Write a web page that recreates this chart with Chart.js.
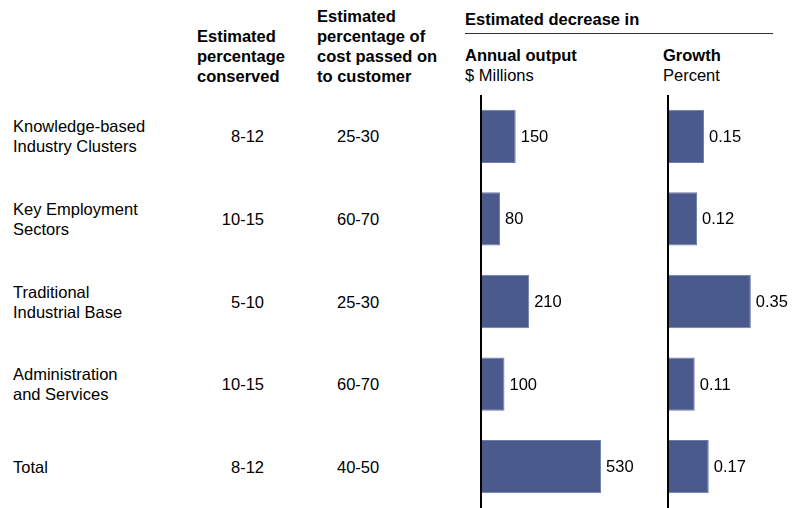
<!DOCTYPE html>
<html>
<head>
<meta charset="utf-8">
<script src="https://cdn.jsdelivr.net/npm/chart.js@4/dist/chart.umd.min.js"></script>
<style>
	body { margin: 0; background: #fff; }
	#page { position: relative; width: 792px; height: 508px; overflow: hidden;
		font-family: "Liberation Sans", Arial, sans-serif; font-size: 16.5px; line-height: 20px; color: #000; }
	.abs { position: absolute; white-space: nowrap; }
	.b { font-weight: bold; }
	.row { transform: translateY(-50%); }
	canvas { position: absolute; }
</style>
</head>
<body>
<div id="page">
	<div class="abs b" style="left:197px; top:26px;">Estimated<br>percentage<br>conserved</div>
	<div class="abs b" style="left:317px; top:6px;">Estimated<br>percentage of<br>cost passed on<br>to customer</div>
	<div class="abs b" style="left:465px; top:9px;">Estimated decrease in</div>
	<div class="abs" style="left:465px; top:33px; width:308px; height:1px; background:#333;"></div>
	<div class="abs" style="left:465px; top:45px;"><span class="b">Annual output</span><br>$ Millions</div>
	<div class="abs" style="left:663px; top:45px;"><span class="b">Growth</span><br>Percent</div>
	<div id="rows"></div>
	<canvas id="outputChart" style="left:478px; top:95px;" width="164" height="413"></canvas>
	<canvas id="growthChart" style="left:665px; top:95px;" width="127" height="413"></canvas>
</div>
<script>
var categories = [
	['Knowledge-based', 'Industry Clusters'],
	['Key Employment', 'Sectors'],
	['Traditional', 'Industrial Base'],
	['Administration', 'and Services'],
	['Total']
];
var conserved = ['8-12', '10-15', '5-10', '10-15', '8-12'];
var passedOn = ['25-30', '60-70', '25-30', '60-70', '40-50'];
var annualOutput = [150, 80, 210, 100, 530];
var growth = [0.15, 0.12, 0.35, 0.11, 0.17];

var barColor = '#4b5a8c';

// axis line on the left + value labels next to each bar
var barExtras = {
	id: 'barExtras',
	afterDatasetsDraw: function(chart, args, opts) {
		var ctx = chart.ctx;
		var area = chart.chartArea;
		ctx.save();
		ctx.strokeStyle = '#000';
		ctx.lineWidth = 2;
		ctx.beginPath();
		ctx.moveTo(area.left - 1, 0);
		ctx.lineTo(area.left - 1, chart.height);
		ctx.stroke();

		ctx.fillStyle = '#000';
		ctx.font = '16.5px "Liberation Sans", Arial, sans-serif';
		ctx.textBaseline = 'middle';
		ctx.textAlign = 'left';
		var meta = chart.getDatasetMeta(0);
		var data = chart.data.datasets[0].data;
		meta.data.forEach(function(bar, i) {
			ctx.fillText(opts.format(data[i]), bar.x + 5, bar.y + 1);
		});
		ctx.restore();
	}
};

function makeChart(id, values, max, format) {
	return new Chart(document.getElementById(id), {
		type: 'bar',
		data: {
			labels: categories.map(function(c) { return c.join(' '); }),
			datasets: [{
				data: values,
				backgroundColor: barColor,
				borderColor: '#6f7ca6',
				borderWidth: 1,
				borderSkipped: 'left',
				barPercentage: 0.645,
				categoryPercentage: 1
			}]
		},
		options: {
			indexAxis: 'y',
			responsive: false,
			animation: false,
			layout: { padding: { left: 4, right: 0, top: 0, bottom: 0 } },
			plugins: {
				legend: { display: false },
				tooltip: { enabled: false },
				barExtras: { format: format }
			},
			scales: {
				x: { display: false, min: 0, max: max },
				y: { display: false, offset: true }
			}
		},
		plugins: [barExtras]
	});
}

var outputChart = makeChart('outputChart', annualOutput, 712, function(v) { return String(v); });
var growthChart = makeChart('growthChart', growth, 0.526, function(v) { return v.toFixed(2); });

// left-hand table rows, placed on the chart's category centres
var rows = document.getElementById('rows');
var yScale = outputChart.scales.y;
var top0 = 95;
categories.forEach(function(cat, i) {
	var yc = top0 + yScale.getPixelForValue(i);
	var html = '';
	html += '<div class="abs row" style="left:13px; top:' + yc + 'px;">' + cat.join('<br>') + '</div>';
	html += '<div class="abs row" style="right:' + (792 - 264) + 'px; top:' + yc + 'px;">' + conserved[i] + '</div>';
	html += '<div class="abs row" style="left:337px; top:' + yc + 'px;">' + passedOn[i] + '</div>';
	rows.insertAdjacentHTML('beforeend', html);
});
</script>
</body>
</html>
